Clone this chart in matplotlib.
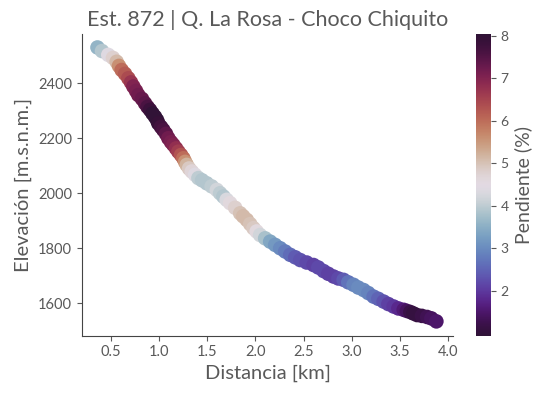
import matplotlib
matplotlib.use('Agg')
import matplotlib.pyplot as plt
import numpy as np

plt.rcParams['font.family'] = ['Lato', 'DejaVu Sans']

# track: distance (km), elevation (m), slope (%)
distancia = [0.363, 0.41, 0.475, 0.524, 0.562, 0.586, 0.614, 0.649, 0.683, 0.711,
             0.735, 0.763, 0.787, 0.825, 0.856, 0.882, 0.908, 0.934, 0.96, 0.981,
             0.994, 1.022, 1.046, 1.074, 1.098, 1.126, 1.15, 1.178, 1.202, 1.23,
             1.254, 1.272, 1.289, 1.313, 1.341, 1.375, 1.41, 1.448, 1.497, 1.547,
             1.601, 1.635, 1.669, 1.703, 1.739, 1.791, 1.843, 1.874, 1.912, 1.947,
             1.981, 2.014, 2.05, 2.102, 2.154, 2.206, 2.258, 2.31, 2.362, 2.414,
             2.466, 2.533, 2.604, 2.653, 2.708, 2.757, 2.812, 2.861, 2.916, 2.964,
             3.019, 3.068, 3.123, 3.172, 3.227, 3.276, 3.331, 3.38, 3.435, 3.484,
             3.539, 3.572, 3.608, 3.639, 3.678, 3.728, 3.782, 3.826, 3.878]
elevacion = [2530, 2517, 2503, 2492, 2478, 2463, 2448, 2434, 2418, 2403,
             2388, 2372, 2357, 2343, 2327, 2314, 2303, 2290, 2278, 2266,
             2254, 2241, 2230, 2216, 2200, 2186, 2176, 2163, 2151, 2139,
             2127, 2114, 2103, 2090, 2079, 2067, 2055, 2047, 2036, 2025,
             2012, 2000, 1988, 1976, 1964, 1947, 1927, 1916, 1903, 1888,
             1873, 1861, 1848, 1836, 1824, 1812, 1800, 1788, 1776, 1767,
             1757, 1748, 1739, 1730, 1717, 1707, 1697, 1690, 1685, 1676,
             1667, 1657, 1648, 1637, 1624, 1616, 1606, 1597, 1588, 1581,
             1576, 1572, 1568, 1563, 1557, 1554, 1550, 1545, 1534]
pendiente = [3.6, 3.9, 4.4, 4.8, 5.1, 5.6, 6.0, 6.2, 6.4, 6.7,
             7.0, 7.1, 7.2, 7.3, 7.4, 7.6, 7.8, 8.0, 8.0, 8.0,
             7.9, 7.7, 7.6, 7.4, 7.2, 7.1, 7.0, 6.8, 6.6, 6.3,
             6.0, 5.6, 5.2, 4.9, 4.7, 4.4, 4.0, 3.9, 3.9, 4.0,
             4.2, 4.0, 3.9, 4.3, 4.6, 4.8, 5.0, 5.1, 5.1, 5.0,
             4.9, 4.6, 4.2, 3.8, 3.4, 3.2, 3.0, 2.8, 2.6, 2.4,
             2.3, 2.2, 2.1, 2.2, 2.2, 2.1, 2.1, 2.2, 2.4, 2.7,
             2.9, 3.0, 3.0, 2.9, 2.7, 2.5, 2.3, 2.1, 2.0, 1.8,
             1.6, 1.4, 1.2, 1.1, 1.1, 1.2, 1.3, 1.4, 1.5]

gris = '#595959'
plt.rcParams['text.color'] = gris
plt.rcParams['axes.labelcolor'] = gris
plt.rcParams['xtick.color'] = gris
plt.rcParams['ytick.color'] = gris

fig = plt.figure(figsize=(5.45, 3.99), dpi=100)
ax = fig.add_axes([0.15, 0.1587, 0.682, 0.7561])
cax = fig.add_axes([0.8734, 0.1587, 0.0275, 0.7561])

sc = ax.scatter(distancia, elevacion, c=pendiente, cmap='twilight_shifted',
                vmin=0.95, vmax=8.04, s=110, linewidths=0)

ax.set_xlim(0.2, 4.055)
ax.set_ylim(1482, 2579)
ax.set_xticks(np.arange(0.5, 4.01, 0.5))
ax.set_yticks([1600, 1800, 2000, 2200, 2400])
ax.spines['top'].set_visible(False)
ax.spines['right'].set_visible(False)
for s in ['left', 'bottom']:
    ax.spines[s].set_color('#444444')
ax.tick_params(labelsize=10.5, colors=gris)

ax.set_xlabel('Distancia [km]', fontsize=14.5)
ax.set_ylabel('Elevación [m.s.n.m.]', fontsize=14.5)
ax.set_title('Est. 872 | Q. La Rosa - Choco Chiquito', fontsize=15.5)

cb = fig.colorbar(sc, cax=cax)
cb.outline.set_visible(False)
cb.set_ticks([2, 3, 4, 5, 6, 7, 8])
cb.ax.tick_params(labelsize=10, colors=gris)
cb.set_label('Pendiente (%)', fontsize=14)

fig.savefig('out.png', dpi=100)
